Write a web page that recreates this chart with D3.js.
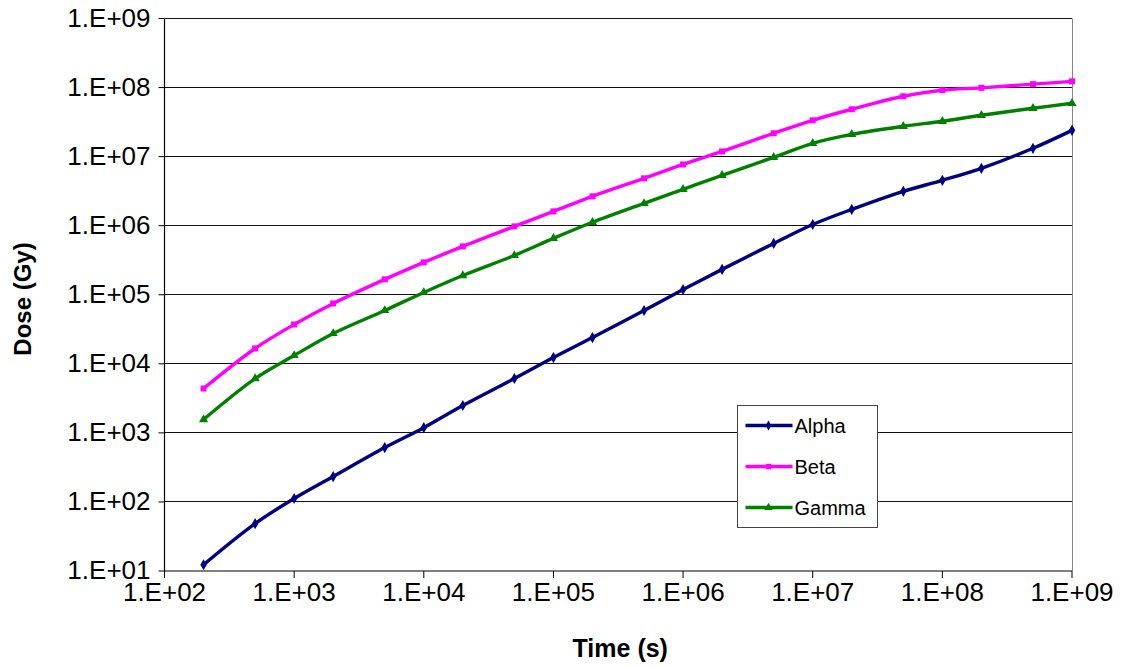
<!DOCTYPE html>
<html>
<head>
<meta charset="utf-8">
<script src="https://cdn.jsdelivr.net/npm/d3@7"></script>
<style>
  body { margin: 0; background: #fff; }
  text { font-family: Arial, "Liberation Sans", sans-serif; }
</style>
</head>
<body>
<div id="chart"></div>
<script>
const width = 1121;
const height = 667;

// time points (s)
const times = [2e2, 5e2, 1e3, 2e3, 5e3, 1e4, 2e4, 5e4, 1e5, 2e5, 5e5,
               1e6, 2e6, 5e6, 1e7, 2e7, 5e7, 1e8, 2e8, 5e8, 1e9];

const alphaDose = [12.3, 48.5, 112, 233, 612, 1190, 2490, 6120, 12300, 24000, 59200,
                   119000, 233000, 554000, 1.04e6, 1.72e6, 3.14e6, 4.54e6, 6.77e6, 1.32e7, 2.4e7];
const betaDose = [4390, 16700, 37100, 74800, 167000, 294000, 501000, 977000, 1.61e6, 2.66e6, 4.85e6,
                  7.7e6, 1.19e7, 2.18e7, 3.36e7, 4.85e7, 7.48e7, 9.14e7, 9.9e7, 1.12e8, 1.23e8];
const gammaDose = [1560, 6120, 13200, 27500, 59200, 108000, 190000, 371000, 655000, 1.12e6, 2.1e6,
                   3.36e6, 5.36e6, 9.77e6, 1.56e7, 2.1e7, 2.75e7, 3.25e7, 3.97e7, 5.01e7, 5.92e7];

const seriesNames = ["Alpha", "Beta", "Gamma"];
const seriesColors = ["#000080", "#ff00ff", "#008000"];
const seriesSymbols = [d3.symbolDiamond, d3.symbolSquare, d3.symbolTriangle];
const seriesValues = [alphaDose, betaDose, gammaDose];

const xTicks = [1e2, 1e3, 1e4, 1e5, 1e6, 1e7, 1e8, 1e9];
const yTicks = [1e1, 1e2, 1e3, 1e4, 1e5, 1e6, 1e7, 1e8, 1e9];

const margin = { top: 18.5, right: 49, bottom: 96, left: 164.5 };
const plotW = width - margin.left - margin.right;
const plotH = height - margin.top - margin.bottom;

const svg = d3.select("#chart").append("svg")
    .attr("width", width)
    .attr("height", height);

const g = svg.append("g")
    .attr("transform", `translate(${margin.left},${margin.top})`);

const x = d3.scaleLog().domain([1e2, 1e9]).range([0, plotW]);
const y = d3.scaleLog().domain([1e1, 1e9]).range([plotH, 0]);

const fmt = d => "1.E+" + String(Math.round(Math.log10(d))).padStart(2, "0");

// gridlines
g.append("g")
    .selectAll("line")
    .data(yTicks.slice(1))
    .enter()
    .append("line")
    .attr("x1", 0)
    .attr("x2", plotW)
    .attr("y1", d => Math.round(y(d)))
    .attr("y2", d => Math.round(y(d)))
    .attr("stroke", "#111")
    .attr("stroke-width", 1);

// right border of plot area
g.append("line")
    .attr("x1", Math.round(plotW)).attr("x2", Math.round(plotW))
    .attr("y1", 0).attr("y2", plotH)
    .attr("stroke", "#888");

// axes
const xAxis = g.append("g")
    .attr("transform", `translate(0,${plotH})`)
    .call(d3.axisBottom(x).tickValues(xTicks).tickFormat(fmt).tickSize(7).tickPadding(5).offset(0));

const yAxis = g.append("g")
    .call(d3.axisLeft(y).tickValues(yTicks).tickFormat(fmt).tickSize(6).tickPadding(8).offset(0));

[xAxis, yAxis].forEach(a => {
    a.select(".domain").attr("stroke", "#000").attr("stroke-width", 1.2);
    a.selectAll(".tick line").attr("stroke", "#000");
    a.selectAll("text")
        .style("font-size", "26px")
        .style("font-family", "Arial, 'Liberation Sans', sans-serif")
        .attr("fill", "#000");
});
xAxis.select(".domain").attr("d", `M0,0H${plotW}`);
yAxis.select(".domain").attr("d", `M0,${plotH}V0`);

// lines
const line = d3.line()
    .x(d => x(d[0]))
    .y(d => y(d[1]))
    .curve(d3.curveCatmullRom.alpha(0.5));

seriesValues.forEach((vals, i) => {
    const pts = times.map((t, j) => [t, vals[j]]);
    g.append("path")
        .datum(pts)
        .attr("fill", "none")
        .attr("stroke", seriesColors[i])
        .attr("stroke-width", 3.4)
        .attr("d", line);

    g.append("g")
        .selectAll("path")
        .data(pts)
        .enter()
        .append("path")
        .attr("transform", d => `translate(${x(d[0])},${y(d[1])})`)
        .attr("d", d3.symbol().type(seriesSymbols[i]).size(36))
        .attr("fill", seriesColors[i]);
});

// axis titles
svg.append("text")
    .attr("x", margin.left + plotW / 2 + 2)
    .attr("y", 657)
    .attr("text-anchor", "middle")
    .style("font-size", "25px")
    .style("font-weight", "bold")
    .text("Time (s)");

svg.append("text")
    .attr("transform", `translate(31,${299}) rotate(-90)`)
    .attr("text-anchor", "middle")
    .style("font-size", "24px")
    .style("font-weight", "bold")
    .text("Dose (Gy)");

// legend
const legend = svg.append("g").attr("transform", "translate(737.5,405.5)");
legend.append("rect")
    .attr("width", 140)
    .attr("height", 122)
    .attr("fill", "#fff")
    .attr("stroke", "#444")
    .attr("stroke-width", 1);

seriesNames.forEach((name, i) => {
    const row = legend.append("g").attr("transform", `translate(0,${20 + i * 41})`);
    row.append("line")
        .attr("x1", 8).attr("x2", 55)
        .attr("stroke", seriesColors[i])
        .attr("stroke-width", 3.4);
    row.append("path")
        .attr("transform", "translate(31,0)")
        .attr("d", d3.symbol().type(seriesSymbols[i]).size(30))
        .attr("fill", seriesColors[i]);
    row.append("text")
        .attr("x", 57)
        .attr("y", 7)
        .style("font-size", "20px")
        .text(name);
});
</script>
</body>
</html>
